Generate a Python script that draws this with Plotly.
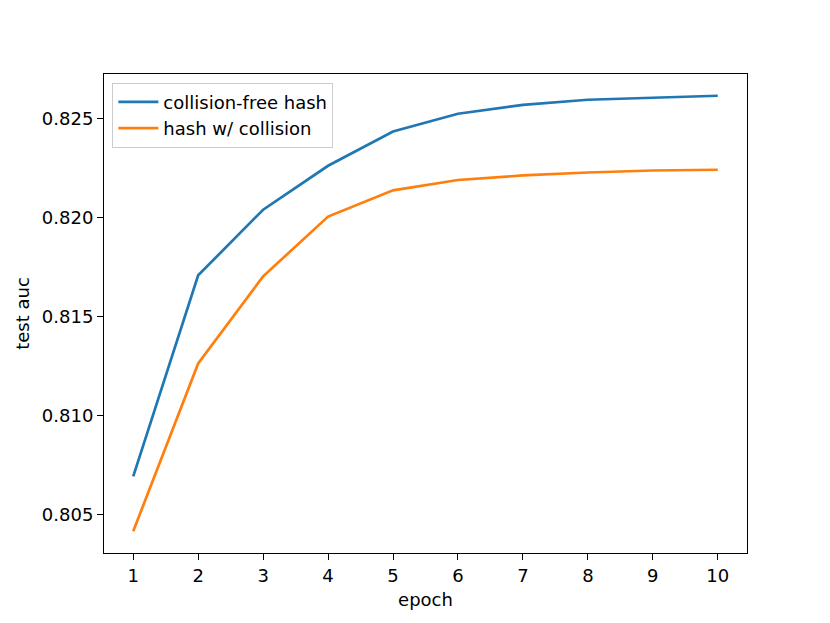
import plotly.graph_objects as go

epochs = [1, 2, 3, 4, 5, 6, 7, 8, 9, 10]
collision_free = [0.80691, 0.81708, 0.82040, 0.82262, 0.82435, 0.82525, 0.82570, 0.82596, 0.82606, 0.82616]
with_collision = [0.80414, 0.81262, 0.81703, 0.82005, 0.82138, 0.82190, 0.82213, 0.82228, 0.82238, 0.82242]
y_ticks = [0.805, 0.810, 0.815, 0.820, 0.825]

font = dict(family="DejaVu Sans", size=18, color="black")

fig = go.Figure()
fig.add_trace(go.Scatter(x=epochs, y=collision_free, mode="lines", name="collision-free hash",
                         line=dict(color="#1f77b4", width=2.7)))
fig.add_trace(go.Scatter(x=epochs, y=with_collision, mode="lines", name="hash w/ collision",
                         line=dict(color="#ff7f0e", width=2.7)))

ymin = min(with_collision)
ymax = max(collision_free)
pad = (ymax - ymin) * 0.05

fig.update_layout(
    width=822, height=615,
    margin=dict(l=96, r=83, t=66, b=70),
    paper_bgcolor="white", plot_bgcolor="white",
    font=font,
    showlegend=True,
    legend=dict(x=0.013, y=0.982, xanchor="left", yanchor="top",
                bgcolor="rgba(255,255,255,0.8)", bordercolor="#cccccc", borderwidth=1,
                font=font, tracegroupgap=0, itemwidth=40),
    xaxis=dict(range=[0.55, 10.45], tickmode="array", tickvals=epochs, ticktext=[str(e) for e in epochs],
               showgrid=False, zeroline=False, showline=True, mirror=True, linecolor="black", linewidth=1.1,
               ticks="outside", ticklen=6, tickwidth=1.1, tickcolor="black",
               title=dict(text="epoch", font=font, standoff=8)),
    yaxis=dict(range=[ymin - pad, ymax + pad], tickmode="array", tickvals=y_ticks,
               ticktext=[f"{v:.3f}" for v in y_ticks],
               showgrid=False, zeroline=False, showline=True, mirror=True, linecolor="black", linewidth=1.1,
               ticks="outside", ticklen=6, tickwidth=1.1, tickcolor="black",
               title=dict(text="test auc", font=font, standoff=7)),
)

fig.write_html("out.html")
